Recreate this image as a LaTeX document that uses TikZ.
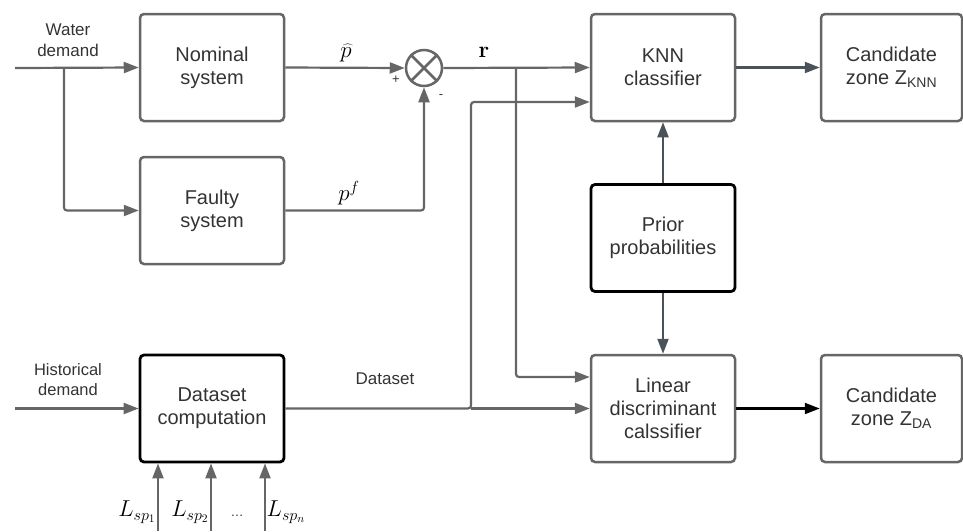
\RequirePackage{fix-cm}
\documentclass[tikz,border=0pt]{standalone}
\usepackage[no-math]{fontspec}
\setmainfont{Liberation Sans}
\usetikzlibrary{arrows.meta,calc}
\definecolor{ln}{HTML}{666666}
\definecolor{tx}{HTML}{333333}
\definecolor{sl}{HTML}{4A525A}
\begin{document}
\begin{tikzpicture}[x=1pt,y=-1pt,
  blk/.style={draw=ln, line width=2.5pt, rounded corners=4pt, minimum width=144pt, minimum height=107pt, align=center, font=\fontsize{20}{23}\selectfont, text=tx, inner sep=0pt},
  bblk/.style={blk, draw=black, line width=2.8pt},
  con/.style={draw=ln, line width=2.2pt, -{Triangle[length=15pt,width=11pt]}, rounded corners=3pt},
  scon/.style={con, draw=sl},
  kcon/.style={con, draw=black},
  lbl/.style={text=tx, font=\fontsize{16.5}{20}\selectfont, align=center, inner sep=0pt},
  mlbl/.style={text=black, font=\fontsize{23}{25}\selectfont, inner sep=0pt}
]
\useasboundingbox (0,0) rectangle (963,531);

\node[blk] (nom) at (212,67.5) {Nominal\\system};
\node[blk] (fau) at (212,210.5) {Faulty\\system};
\node[draw=ln, line width=2.5pt, circle, minimum size=36pt, inner sep=0pt] (sum) at (424,68) {};
\draw[ln, line width=2.5pt] (sum.north west) -- (sum.south east) (sum.north east) -- (sum.south west);
\node[blk] (knn) at (663,67.5) {KNN\\classifier};
\node[blk, minimum width=141pt] (czk) at (891.5,67.5) {Candidate\\zone Z\textsubscript{KNN}};
\node[bblk] (pri) at (663,238) {Prior\\probabilities};
\node[blk] (lda) at (663,408.5) {Linear\\discriminant\\calssifier};
\node[blk, minimum width=141pt] (cza) at (891.5,408.5) {Candidate\\zone Z\textsubscript{DA}};
\node[bblk] (dsc) at (212,408.5) {Dataset\\computation};

% water demand
\coordinate (wd) at (15,68);
\coordinate (wb) at (64,68);
\node[lbl, font=\fontsize{17}{21}\selectfont] (wdl) at (68,40) {Water\\demand};
\draw[con] (wd) -- (nom.west);
\draw[con] (wb) |- (fau.west);

% residual generation
\draw[con] (nom.east) -- (sum.west);
\node[mlbl] (ph) at (346,53) {$\widehat{p}$};
\node[text=tx, font=\fontsize{13}{13}\selectfont] (plus) at (396,80) {+};
\node[text=tx, font=\fontsize{13}{13}\selectfont] (minus) at (441,97) {-};
\draw[con] (fau.east) -| (sum.south);
\node[mlbl] (pf) at (349,193) {$p^f$};
\draw[con] (sum.east) -- (knn.west);
\node[mlbl] (r) at (484,52) {$\mathbf{r}$};
\coordinate (rb) at (516,68);
\draw[con] (rb) |- ($(lda.west)+(0,-31.5)$);

% historical demand / dataset
\node[lbl] (hdl) at (68,380) {Historical\\demand};
\coordinate (hd) at (15,408.5);
\draw[con] (hd) -- (dsc.west);
\coordinate (db) at (471,408.5);
\draw[con] (dsc.east) -- (db) |- ($(knn.west)+(0,34.5)$);
\draw[con] (db) -- (lda.west);
\node[lbl, font=\fontsize{17}{20}\selectfont] (dsl) at (385,379) {Dataset};

% prior
\draw[scon] (pri.north) -- (knn.south);
\draw[scon] (pri.south) -- (lda.north);

% outputs
\draw[scon] (knn.east) -- (czk.west);
\draw[kcon] (lda.east) -- (cza.west);

% L_sp inputs
\coordinate (l1) at (158,531);
\coordinate (l2) at (211,531);
\coordinate (l3) at (265,531);
\draw[con] (l1) -- (l1|-dsc.south);
\draw[con] (l2) -- (l2|-dsc.south);
\draw[con] (l3) -- (l3|-dsc.south);
\node[mlbl] (L1) at (137,512) {$L_{sp_1}$};
\node[mlbl] (L2) at (190,512) {$L_{sp_2}$};
\node[mlbl] (Ln) at (286,512) {$L_{sp_n}$};
\node[text=tx, font=\fontsize{13}{13}\selectfont] (dots) at (237,516) {\dots};
\end{tikzpicture}
\end{document}
